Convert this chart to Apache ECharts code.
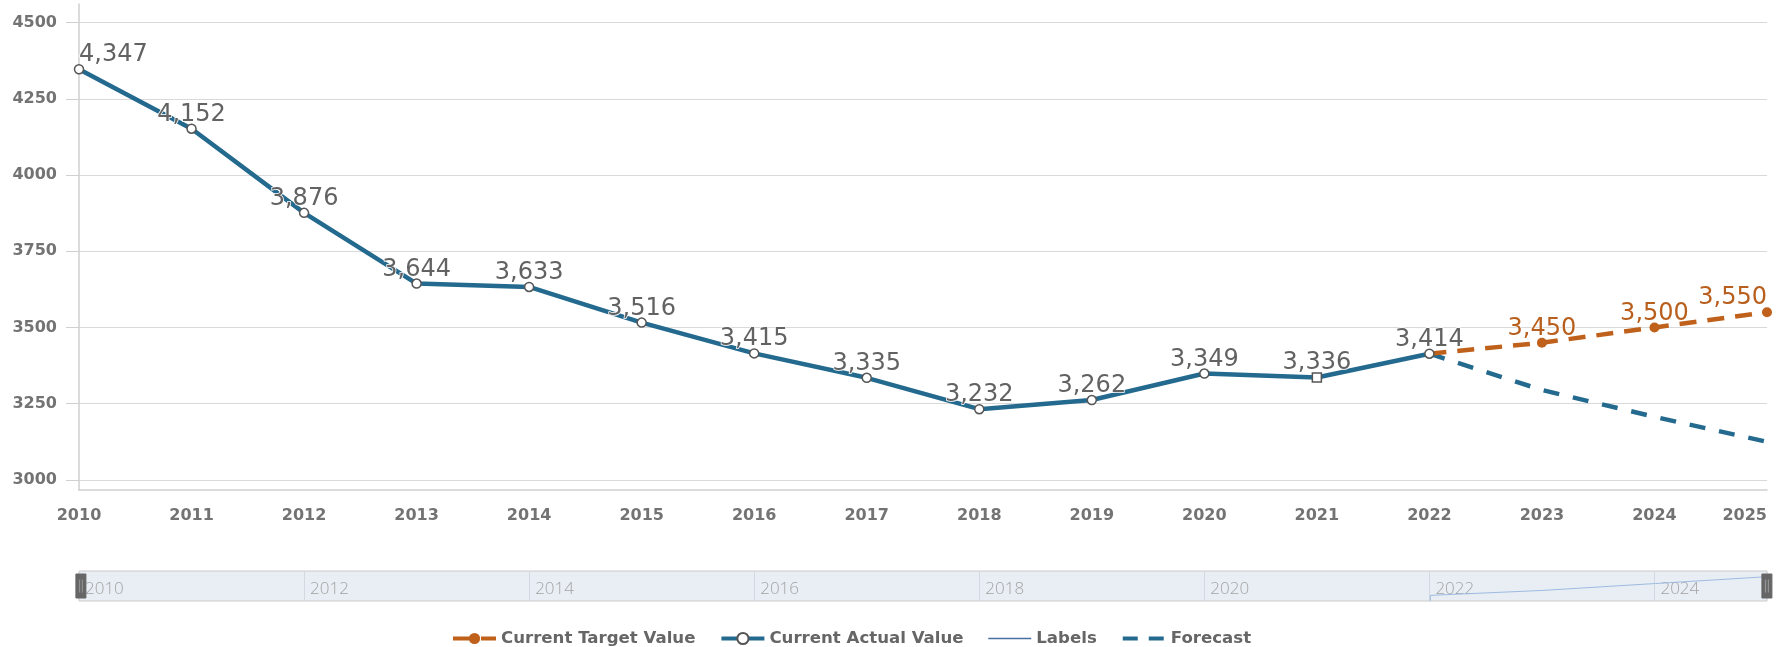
<!DOCTYPE html>
<html lang="en">
<head>
    <meta charset="UTF-8">
    <title>Current Actual vs Target</title>
    <script src="https://cdn.jsdelivr.net/npm/echarts@6/dist/echarts.min.js"></script>
    <style>
        html, body { margin: 0; padding: 0; background: #fff; }
        #chart { width: 1776px; height: 647px; }
    </style>
</head>
<body>
    <div id="chart"></div>
    <script>
        // data
        const years = ['2010', '2011', '2012', '2013', '2014', '2015', '2016', '2017',
                       '2018', '2019', '2020', '2021', '2022', '2023', '2024', '2025'];
        const actualValues = [4347, 4152, 3876, 3644, 3633, 3516, 3415, 3335,
                              3232, 3262, 3349, 3336, 3414, null, null, null];
        const targetValues = [null, null, null, null, null, null, null, null,
                              null, null, null, null, 3414, 3450, 3500, 3550];
        const forecastValues = [null, null, null, null, null, null, null, null,
                                null, null, null, null, 3414, 3295, 3207, 3125];
        const yTicks = [3000, 3250, 3500, 3750, 4000, 4250, 4500];

        const BLUE = '#246a8f';
        const ORANGE = '#bf601b';
        const fmt = v => echarts.format.addCommas(v);

        const labelBase = {
            show: true,
            position: 'top',
            distance: -3,
            fontFamily: 'DejaVu Sans',
            fontSize: 24,
            textBorderColor: '#fff',
            textBorderWidth: 1.5,
            formatter: p => fmt(p.value)
        };

        // actual: first label sits to the right of its point, 2021 uses a square marker
        const actualData = actualValues.map((v, i) => {
            const item = { value: v };
            if (i === 0) item.label = { align: 'left' };
            if (i === 11) item.symbol = 'rect';
            return item;
        });

        // target: no marker/label on the starting point, last label aligned right
        const firstTarget = targetValues.findIndex(v => v !== null);
        const targetData = targetValues.map((v, i) => {
            const item = { value: v };
            if (i === firstTarget) {
                item.symbol = 'none';
                item.label = { show: false };
            }
            if (i === targetValues.length - 1) item.label = { align: 'right' };
            return item;
        });

        const chart = echarts.init(document.getElementById('chart'));

        const option = {
            animation: false,
            grid: [
                { left: 79, right: 9, top: 4, bottom: 157 },
                {
                    left: 79, right: 9, top: 571, height: 30,
                    show: true, backgroundColor: '#e9eef5',
                    borderColor: '#c9c9c9', borderWidth: 1
                }
            ],
            xAxis: [
                {
                    type: 'category',
                    data: years,
                    boundaryGap: false,
                    axisLine: { lineStyle: { color: '#cfcfcf', width: 1.5 } },
                    axisTick: { show: false },
                    axisLabel: {
                        margin: 18,
                        fontFamily: 'DejaVu Sans',
                        fontWeight: 'bold',
                        fontSize: 16,
                        color: '#737373',
                        interval: 0,
                        alignMaxLabel: 'right'
                    },
                    splitLine: { show: false }
                },
                {
                    type: 'category',
                    gridIndex: 1,
                    data: years,
                    boundaryGap: false,
                    axisLine: { show: false },
                    axisTick: { show: false },
                    axisLabel: {
                        inside: true,
                        interval: 1,
                        align: 'left',
                        verticalAlign: 'middle',
                        margin: 12,
                        padding: [0, 0, 0, 6],
                        fontFamily: 'Open Sans',
                        fontWeight: 300,
                        fontSize: 17,
                        color: '#a3a3a3'
                    },
                    splitLine: { show: true, interval: 1, lineStyle: { color: '#d3d9e1' } }
                }
            ],
            yAxis: [
                {
                    type: 'value',
                    min: 2967,
                    max: 4561,
                    axisLine: { show: true, lineStyle: { color: '#cfcfcf', width: 1.5 } },
                    axisTick: { show: true, length: 13, customValues: yTicks, lineStyle: { color: '#cfcfcf' } },
                    axisLabel: {
                        customValues: yTicks,
                        formatter: v => String(v),
                        margin: 22,
                        fontFamily: 'DejaVu Sans',
                        fontWeight: 'bold',
                        fontSize: 16,
                        color: '#737373'
                    },
                    splitLine: { show: true, lineStyle: { color: '#d9d9d9' } }
                },
                { type: 'value', gridIndex: 1, show: false }
            ],
            dataZoom: [{
                type: 'slider',
                xAxisIndex: 0,
                left: 79, right: 9, top: 571, height: 30,
                backgroundColor: 'rgba(0,0,0,0)',
                borderColor: 'rgba(0,0,0,0)',
                fillerColor: 'rgba(0,0,0,0)',
                showDetail: false,
                brushSelect: false,
                moveHandleSize: 0,
                handleIcon: 'path://M0,0L10,0L10,24L0,24Z M3,5L3,19L4.2,19L4.2,5Z M5.8,5L5.8,19L7,19L7,5Z',
                handleSize: '80%',
                handleStyle: { color: '#666', borderColor: '#666' },
                emphasis: { handleStyle: { color: '#666', borderColor: '#666' } },
                dataBackground: {
                    lineStyle: { color: '#9dbbe0', width: 1, opacity: 1 },
                    areaStyle: { opacity: 0 }
                },
                selectedDataBackground: {
                    lineStyle: { color: '#9dbbe0', width: 1, opacity: 1 },
                    areaStyle: { opacity: 0 }
                }
            }],
            legend: {
                left: 446,
                top: 625,
                itemWidth: 43,
                itemHeight: 14,
                itemGap: 24,
                textStyle: {
                    fontFamily: 'DejaVu Sans',
                    fontWeight: 'bold',
                    fontSize: 16.6,
                    color: '#666'
                },
                data: [
                    { name: 'Current Target Value', lineStyle: { width: 4 } },
                    { name: 'Current Actual Value', lineStyle: { width: 4 } },
                    { name: 'Labels', lineStyle: { width: 1.5 }, itemStyle: { opacity: 0 } },
                    { name: 'Forecast', lineStyle: { width: 4, type: [15, 11] }, itemStyle: { opacity: 0 } }
                ]
            },
            series: [
                {
                    name: 'Current Target Value',
                    type: 'line',
                    data: targetData,
                    symbol: 'circle',
                    symbolSize: 10,
                    showAllSymbol: true,
                    lineStyle: { color: ORANGE, width: 4.5, type: [17, 11] },
                    itemStyle: { color: ORANGE },
                    label: Object.assign({}, labelBase, { color: '#b95f1d' }),
                    emphasis: { disabled: true },
                    z: 3
                },
                {
                    name: 'Current Actual Value',
                    type: 'line',
                    data: actualData,
                    symbol: 'circle',
                    symbolSize: 9,
                    showAllSymbol: true,
                    lineStyle: { color: BLUE, width: 4.5 },
                    itemStyle: { color: '#fff', borderColor: '#555', borderWidth: 1.5 },
                    label: Object.assign({}, labelBase, { color: '#626262' }),
                    emphasis: { disabled: true },
                    z: 4
                },
                {
                    name: 'Labels',
                    type: 'line',
                    data: [],
                    symbol: 'none',
                    lineStyle: { color: '#4a70a3', width: 1.5 },
                    itemStyle: { color: '#4a70a3' }
                },
                {
                    name: 'Forecast',
                    type: 'line',
                    data: forecastValues,
                    symbol: 'none',
                    lineStyle: { color: BLUE, width: 4.5, type: [16, 14] },
                    itemStyle: { color: BLUE },
                    emphasis: { disabled: true },
                    z: 2
                }
            ]
        };

        chart.setOption(option);
    </script>
</body>
</html>
